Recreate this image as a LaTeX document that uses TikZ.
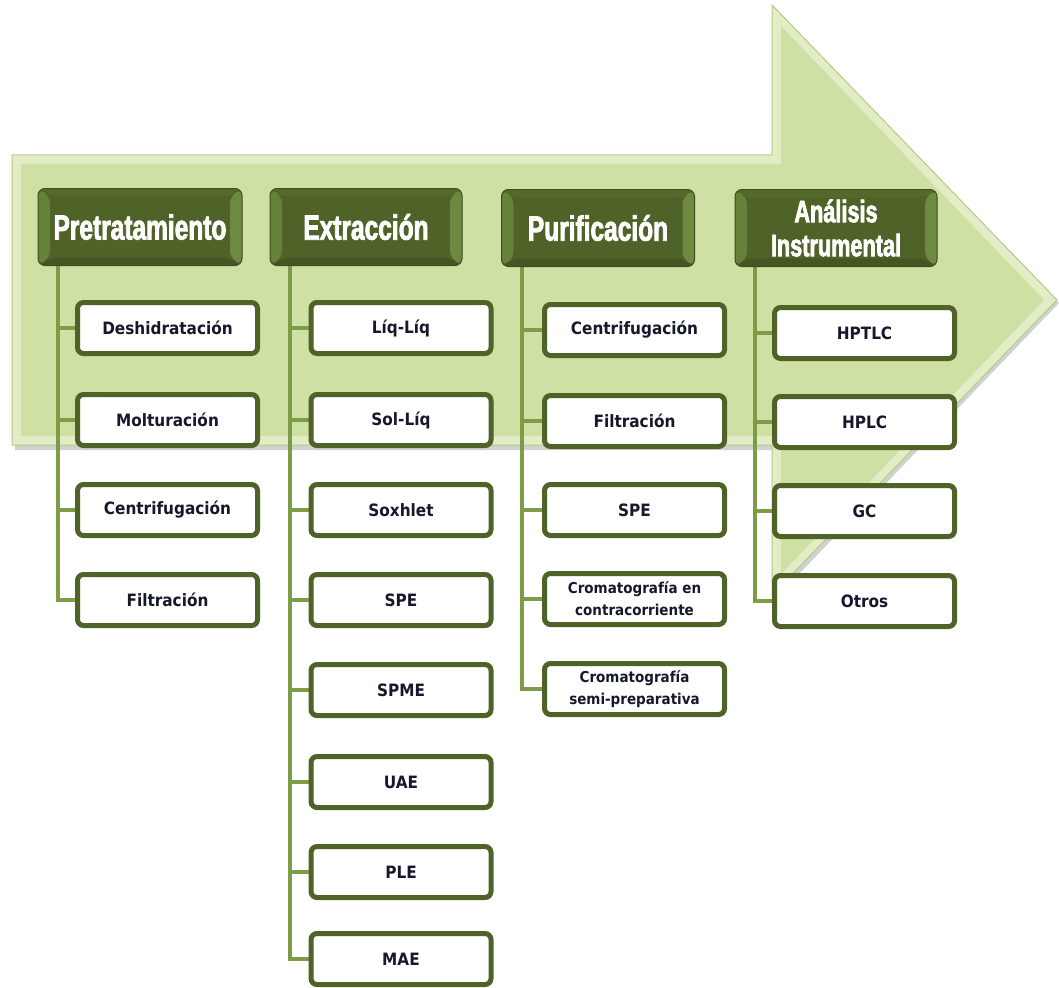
\documentclass[tikz,border=0pt]{standalone}
\usepackage{fontspec}
\setmainfont{DejaVu Sans}
\newfontfamily\headfont[FakeStretch=0.7,FakeBold=2.2]{Liberation Sans}
\newfontfamily\boxfont[FakeStretch=0.9]{DejaVu Sans}
\usetikzlibrary{calc,backgrounds}
\definecolor{arrowfill}{HTML}{CFE0A4}
\definecolor{arrowlight}{HTML}{E2EDC6}
\definecolor{arrowedge}{HTML}{B4CA86}
\definecolor{hdark}{HTML}{4F6228}
\definecolor{hborder}{HTML}{3E4E1E}
\definecolor{hbevelL}{HTML}{66813A}
\definecolor{hbevelR}{HTML}{6E8A40}
\definecolor{hbevelT}{HTML}{56692C}
\definecolor{hbevelB}{HTML}{455623}
\definecolor{boxedge}{HTML}{4F6228}
\definecolor{conncol}{HTML}{7E9B45}
\definecolor{txtdark}{HTML}{16182C}
\tikzset{
  x=1pt, y=-1pt,
  head/.style={rounded corners=7pt, fill=hdark, draw=hborder, line width=1pt,
    minimum width=#1, minimum height=77pt, inner sep=0pt, align=center,
    text=white, font=\headfont\bfseries\fontsize{35}{30}\selectfont,
    path picture={
      \fill[hbevelT] (path picture bounding box.north west) -- (path picture bounding box.north east)
        -- ($(path picture bounding box.north east)+(-12,8)$) -- ($(path picture bounding box.north west)+(12,8)$) -- cycle;
      \fill[hbevelB] (path picture bounding box.south west) -- (path picture bounding box.south east)
        -- ($(path picture bounding box.south east)+(-12,-8)$) -- ($(path picture bounding box.south west)+(12,-8)$) -- cycle;
      \fill[hbevelL] (path picture bounding box.north west) -- ($(path picture bounding box.north west)+(12,8)$)
        -- ($(path picture bounding box.south west)+(12,-8)$) -- (path picture bounding box.south west) -- cycle;
      \fill[hbevelR] (path picture bounding box.north east) -- ($(path picture bounding box.north east)+(-12,8)$)
        -- ($(path picture bounding box.south east)+(-12,-8)$) -- (path picture bounding box.south east) -- cycle;
    }},
  headtwo/.style={head=#1, font=\headfont\bfseries\fontsize{31}{34}\selectfont},
  child/.style={rounded corners=6pt, draw=boxedge, line width=5pt, fill=white,
    minimum width=180pt, minimum height=51pt, inner sep=0pt, align=center,
    text=txtdark, font=\boxfont\bfseries\fontsize{17}{19}\selectfont},
  childs/.style={child, font=\boxfont\bfseries\fontsize{15}{22}\selectfont},
  conn/.style={draw=conncol, line width=4pt},
}
\begin{document}
\begin{tikzpicture}
\useasboundingbox (0,0) rectangle (1059,987);

% headers
\node[head=204pt] (ph) at (140,227) {Pretratamiento};
\node[head=192pt] (eh) at (366,227) {Extracción};
\node[head=193pt] (uh) at (598,228) {Purificación};
\node[headtwo=202pt] (ah) at (836,228) {Análisis\\Instrumental};

% Pretratamiento
\node[child] (p1) at (167.5,328) {Deshidratación};
\node[child] (p2) at (167.5,420) {Molturación};
\node[child] (p3) at (167.5,510) {Centrifugación};
\node[child] (p4) at (167.5,600) {Filtración};

% Extraccion
\node[child] (e1) at (401,328) {Líq-Líq};
\node[child] (e2) at (401,420) {Sol-Líq};
\node[child] (e3) at (401,510) {Soxhlet};
\node[child] (e4) at (401,600) {SPE};
\node[child] (e5) at (401,690) {SPME};
\node[child] (e6) at (401,782) {UAE};
\node[child] (e7) at (401,872) {PLE};
\node[child] (e8) at (401,959) {MAE};

% Purificacion
\node[child] (u1) at (634.5,330) {Centrifugación};
\node[child] (u2) at (634.5,421) {Filtración};
\node[child] (u3) at (634.5,510) {SPE};
\node[childs] (u4) at (634.5,599) {Cromatografía en\\contracorriente};
\node[childs] (u5) at (634.5,689) {Cromatografía\\semi-preparativa};

% Analisis
\node[child] (a1) at (864.5,333) {HPTLC};
\node[child] (a2) at (864.5,422) {HPLC};
\node[child] (a3) at (864.5,511) {GC};
\node[child] (a4) at (864.5,601) {Otros};

\coordinate (px) at (58,0);
\coordinate (ex) at (290,0);
\coordinate (ux) at (522,0);
\coordinate (ax) at (755,0);

\begin{scope}[on background layer]
  % big arrow
  \fill[black, opacity=0.18] (15,160) -- (775,160) -- (775,10) -- (1059,303) -- (775,599) -- (775,450) -- (15,450) -- cycle;
  \fill[arrowlight, draw=arrowedge, line width=1pt]
    (12,155) -- (772,155) -- (772,5) -- (1057,300) -- (772,595) -- (772,445) -- (12,445) -- cycle;
  \fill[arrowfill]
    (21,164) -- (781,164) -- (781,26) -- (1044,300) -- (781,574) -- (781,436) -- (21,436) -- cycle;
\end{scope}
\begin{scope}[on background layer]
  \draw[conn] (ph.south -| px) |- (p4.west);
  \foreach \n in {p1,p2,p3} \draw[conn] (px |- \n.west) -- (\n.west);
  \draw[conn] (eh.south -| ex) |- (e8.west);
  \foreach \n in {e1,e2,e3,e4,e5,e6,e7} \draw[conn] (ex |- \n.west) -- (\n.west);
  \draw[conn] (uh.south -| ux) |- (u5.west);
  \foreach \n in {u1,u2,u3,u4} \draw[conn] (ux |- \n.west) -- (\n.west);
  \draw[conn] (ah.south -| ax) |- (a4.west);
  \foreach \n in {a1,a2,a3} \draw[conn] (ax |- \n.west) -- (\n.west);
\end{scope}
\end{tikzpicture}
\end{document}
